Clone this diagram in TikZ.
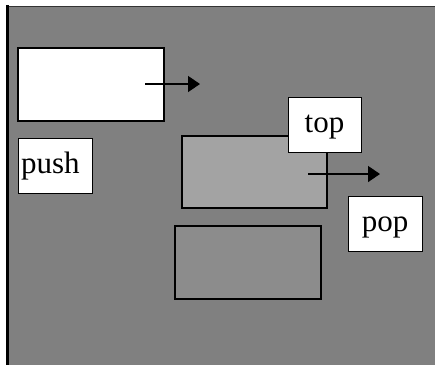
\documentclass[tikz,border=0pt]{standalone}
\usepackage{fontspec}
\setmainfont{Liberation Serif}
\usetikzlibrary{arrows.meta}
\definecolor{panelgray}{gray}{0.5}
\definecolor{topgray}{gray}{0.64}
\definecolor{lowgray}{gray}{0.55}
\tikzset{
  cell/.style={draw=black, line width=2pt, minimum width=146pt, minimum height=73pt, inner sep=0pt},
  tag/.style={draw=black, line width=0.8pt, fill=white, minimum width=74pt, minimum height=55pt,
    inner sep=0pt, text height=20pt, text depth=4pt, font=\fontsize{31}{35}\selectfont},
  move/.style={line width=1.5pt, -{Triangle[length=12pt,width=16pt]}}
}
\begin{document}
\begin{tikzpicture}[x=1pt,y=-1pt]
\useasboundingbox (0,0) rectangle (435,365);
\fill[panelgray] (8,7) rectangle (435,365);
\draw[line width=1.2pt,black!80] (6,6.5) -- (435,6.5);
\draw[line width=3pt,black] (7,5) -- (7,365);
% new element and push
\node[cell,fill=white] (newcell) at (91,84.5) {};
\coordinate (pushFrom) at (145,84);
\coordinate (pushTo) at (200,84);
\draw[move] (pushFrom) -- (pushTo);
\node[tag,inner xsep=3pt,text width=68pt,align=left] (push) at (55,165.5) {push};
% stack
\node[cell,fill=lowgray] (lowcell) at (247.5,262.5) {};
\node[cell,fill=topgray,minimum width=145pt,minimum height=72pt] (topcell) at (254.5,172) {};
\coordinate (popFrom) at (308,174);
\coordinate (popTo) at (380,174);
\draw[move] (popFrom) -- (popTo);
\node[tag,minimum width=73pt] (top) at (324.5,124.5) {top};
\node[tag] (pop) at (385,223.5) {pop};
\end{tikzpicture}
\end{document}
